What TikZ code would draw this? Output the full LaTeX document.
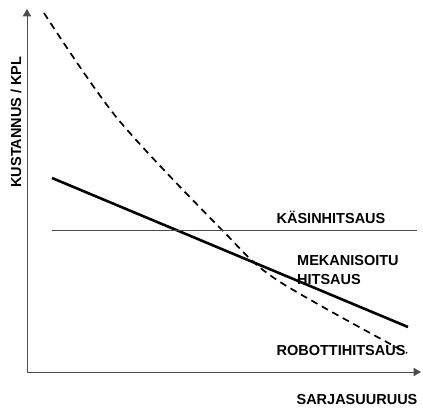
\documentclass[tikz,border=0pt]{standalone}
\usepackage{fontspec}
\setmainfont{Liberation Sans}
\usepackage{tikz}
\usetikzlibrary{arrows}

\begin{document}
\begin{tikzpicture}[x=1pt,y=-1pt,
	lbl/.style={font=\fontsize{14.5}{19}\selectfont\bfseries, inner sep=0pt}]
		\useasboundingbox (0,0) rectangle (423,409);

		\coordinate (origin) at (27,372);
		\coordinate (ytop) at (27,9);
		\coordinate (xend) at (421,372);

		\draw [->,>=triangle 60, line width=1pt, black!70] (origin) -- (ytop);
		\draw [->,>=triangle 60, line width=1pt, black!70] (origin) -- (xend);

		\draw [line width=1.7pt, dash pattern=on 7pt off 5pt] plot[smooth] coordinates {(44,13) (117,118) (222,230) (277,280) (407,353)};

		\draw [line width=2.6pt] (52,178) -- (408,327);
		\draw [line width=1pt, black!70] (52,230) -- (417,230);

		\node[lbl] (kasin) at (331,217.5) {KÄSINHITSAUS};
		\node[lbl, align=left, anchor=north west] (mekan) at (297,255) {MEKANISOITU\\HITSAUS};
		\node[lbl] (robotti) at (341,351) {ROBOTTIHITSAUS};
		\node[lbl] (sarja) at (357,400) {SARJASUURUUS};
		\node[lbl, rotate=90] (kust) at (16,122) {KUSTANNUS / KPL};
	\end{tikzpicture}
\end{document}
